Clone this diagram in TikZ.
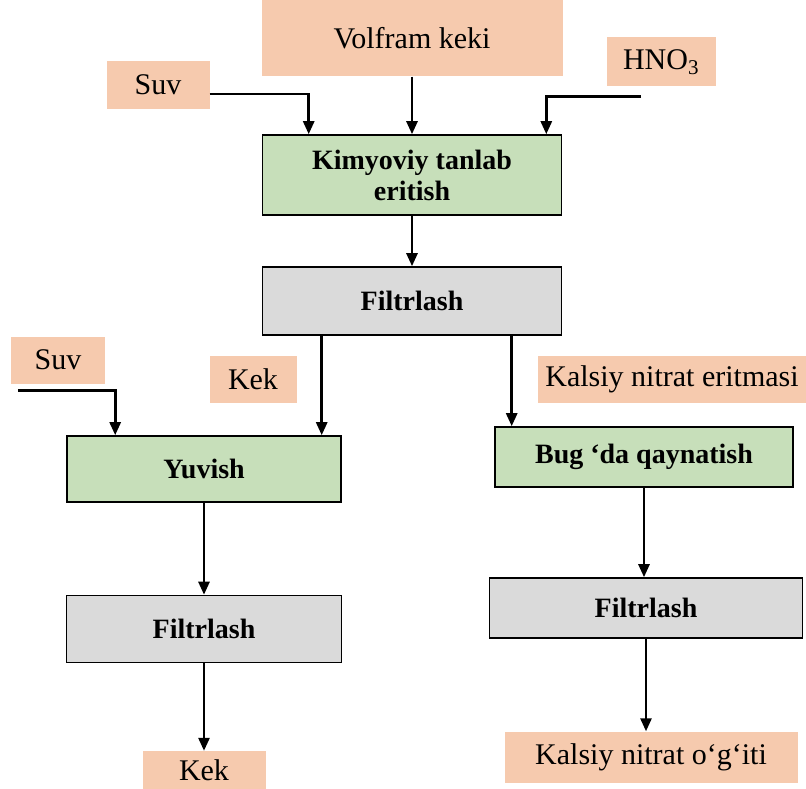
\documentclass[tikz,border=0pt]{standalone}
\usepackage{xcolor}
\usepackage{fontspec}
\setmainfont{Liberation Serif}
\usepackage{tikz}
\usetikzlibrary{calc,arrows.meta}

\definecolor{peach}{RGB}{246,202,174}
\definecolor{lgreen}{RGB}{199,223,186}
\definecolor{lgray}{RGB}{218,218,218}

\begin{document}
\begin{tikzpicture}[
 x=1pt, y=-1pt,
 input/.style={
      rectangle,
      fill=peach,
      align=center,
      font=\fontsize{30}{33}\selectfont,
      inner sep=0pt
   },
   proc/.style={
    rectangle,
    draw=black,
    line width=1.6pt,
    fill=lgreen,
    align=center,
    font=\fontsize{28}{31}\selectfont\bfseries,
    inner sep=0pt
   },
   filt/.style={
    proc,
    fill=lgray
   },
   arr/.style={
    line width=2.6pt,
    -{Triangle[length=13pt,width=11pt]}
   }
 ]
 \useasboundingbox (0,0) rectangle (806,789);

 %kirish
 \node[input, minimum width=301pt, minimum height=77pt] (volf) at (412,38) {Volfram keki};
 \node[input, minimum width=103pt, minimum height=48pt] (suvA) at (158,85) {Suv};
 \node[input, minimum width=109pt, minimum height=49pt] (hno) at (661,62) {HNO\textsubscript{3}};

 %kimyoviy tanlab eritish
 \node[proc, minimum width=299pt, minimum height=80pt] (kim) at (412,175) {Kimyoviy tanlab\\eritish};
 %filtrlash
 \node[filt, minimum width=299pt, minimum height=68pt] (filA) at (412,301) {Filtrlash};

 %chap tomon
 \node[input, minimum width=94pt, minimum height=47pt] (suvB) at (58,360) {Suv};
 \node[input, minimum width=87pt, minimum height=47pt] (kekA) at (253,379) {Kek};
 \node[proc, minimum width=274pt, minimum height=66pt] (yuv) at (204,469) {Yuvish};
 \node[filt, minimum width=275pt, minimum height=67pt] (filB) at (204,629) {Filtrlash};
 \node[input, minimum width=123pt, minimum height=38pt] (kekB) at (204,770) {Kek};

 %o'ng tomon
 \node[input, minimum width=268pt, minimum height=47pt] (kne) at (672,379) {Kalsiy nitrat eritmasi};
 \node[proc, minimum width=298pt, minimum height=60pt] (bug) at (644,457) {Bug ‘da qaynatish};
 \node[filt, minimum width=313pt, minimum height=60pt] (filC) at (646,608) {Filtrlash};
 \node[input, minimum width=293pt, minimum height=51pt] (kno) at (651,757) {Kalsiy nitrat o‘g‘iti};

 %chiqish nuqtalari
 \coordinate (kekOut) at ($(filA.south west)+(60,0)$);
 \coordinate (kneOut) at ($(filA.south west)+(250,0)$);

 %strelkalar
 \draw[arr] ([yshift=-9pt]suvA.east) -| ($(kim.north west)+(47,0)$);
 \draw[arr] (volf) -- (kim);
 \draw[arr] ($(hno.south)+(-20,10)$) -| ($(kim.north east)+(-16,0)$);
 \draw[arr] (kim) -- (filA);

 \draw[arr] (kekOut) -- (kekOut |- yuv.north);
 \draw[arr] (kneOut) -- (kneOut |- bug.north);
 \draw[arr] ($(suvB.south west)+(7,7)$) -| ($(yuv.north west)+(49,0)$);

 \draw[arr] (yuv) -- (filB);
 \draw[arr] (filB) -- (kekB);
 \draw[arr] (bug) -- (bug |- filC.north);
 \draw[arr] (filC) -- (filC |- kno.north);
\end{tikzpicture}
\end{document}
